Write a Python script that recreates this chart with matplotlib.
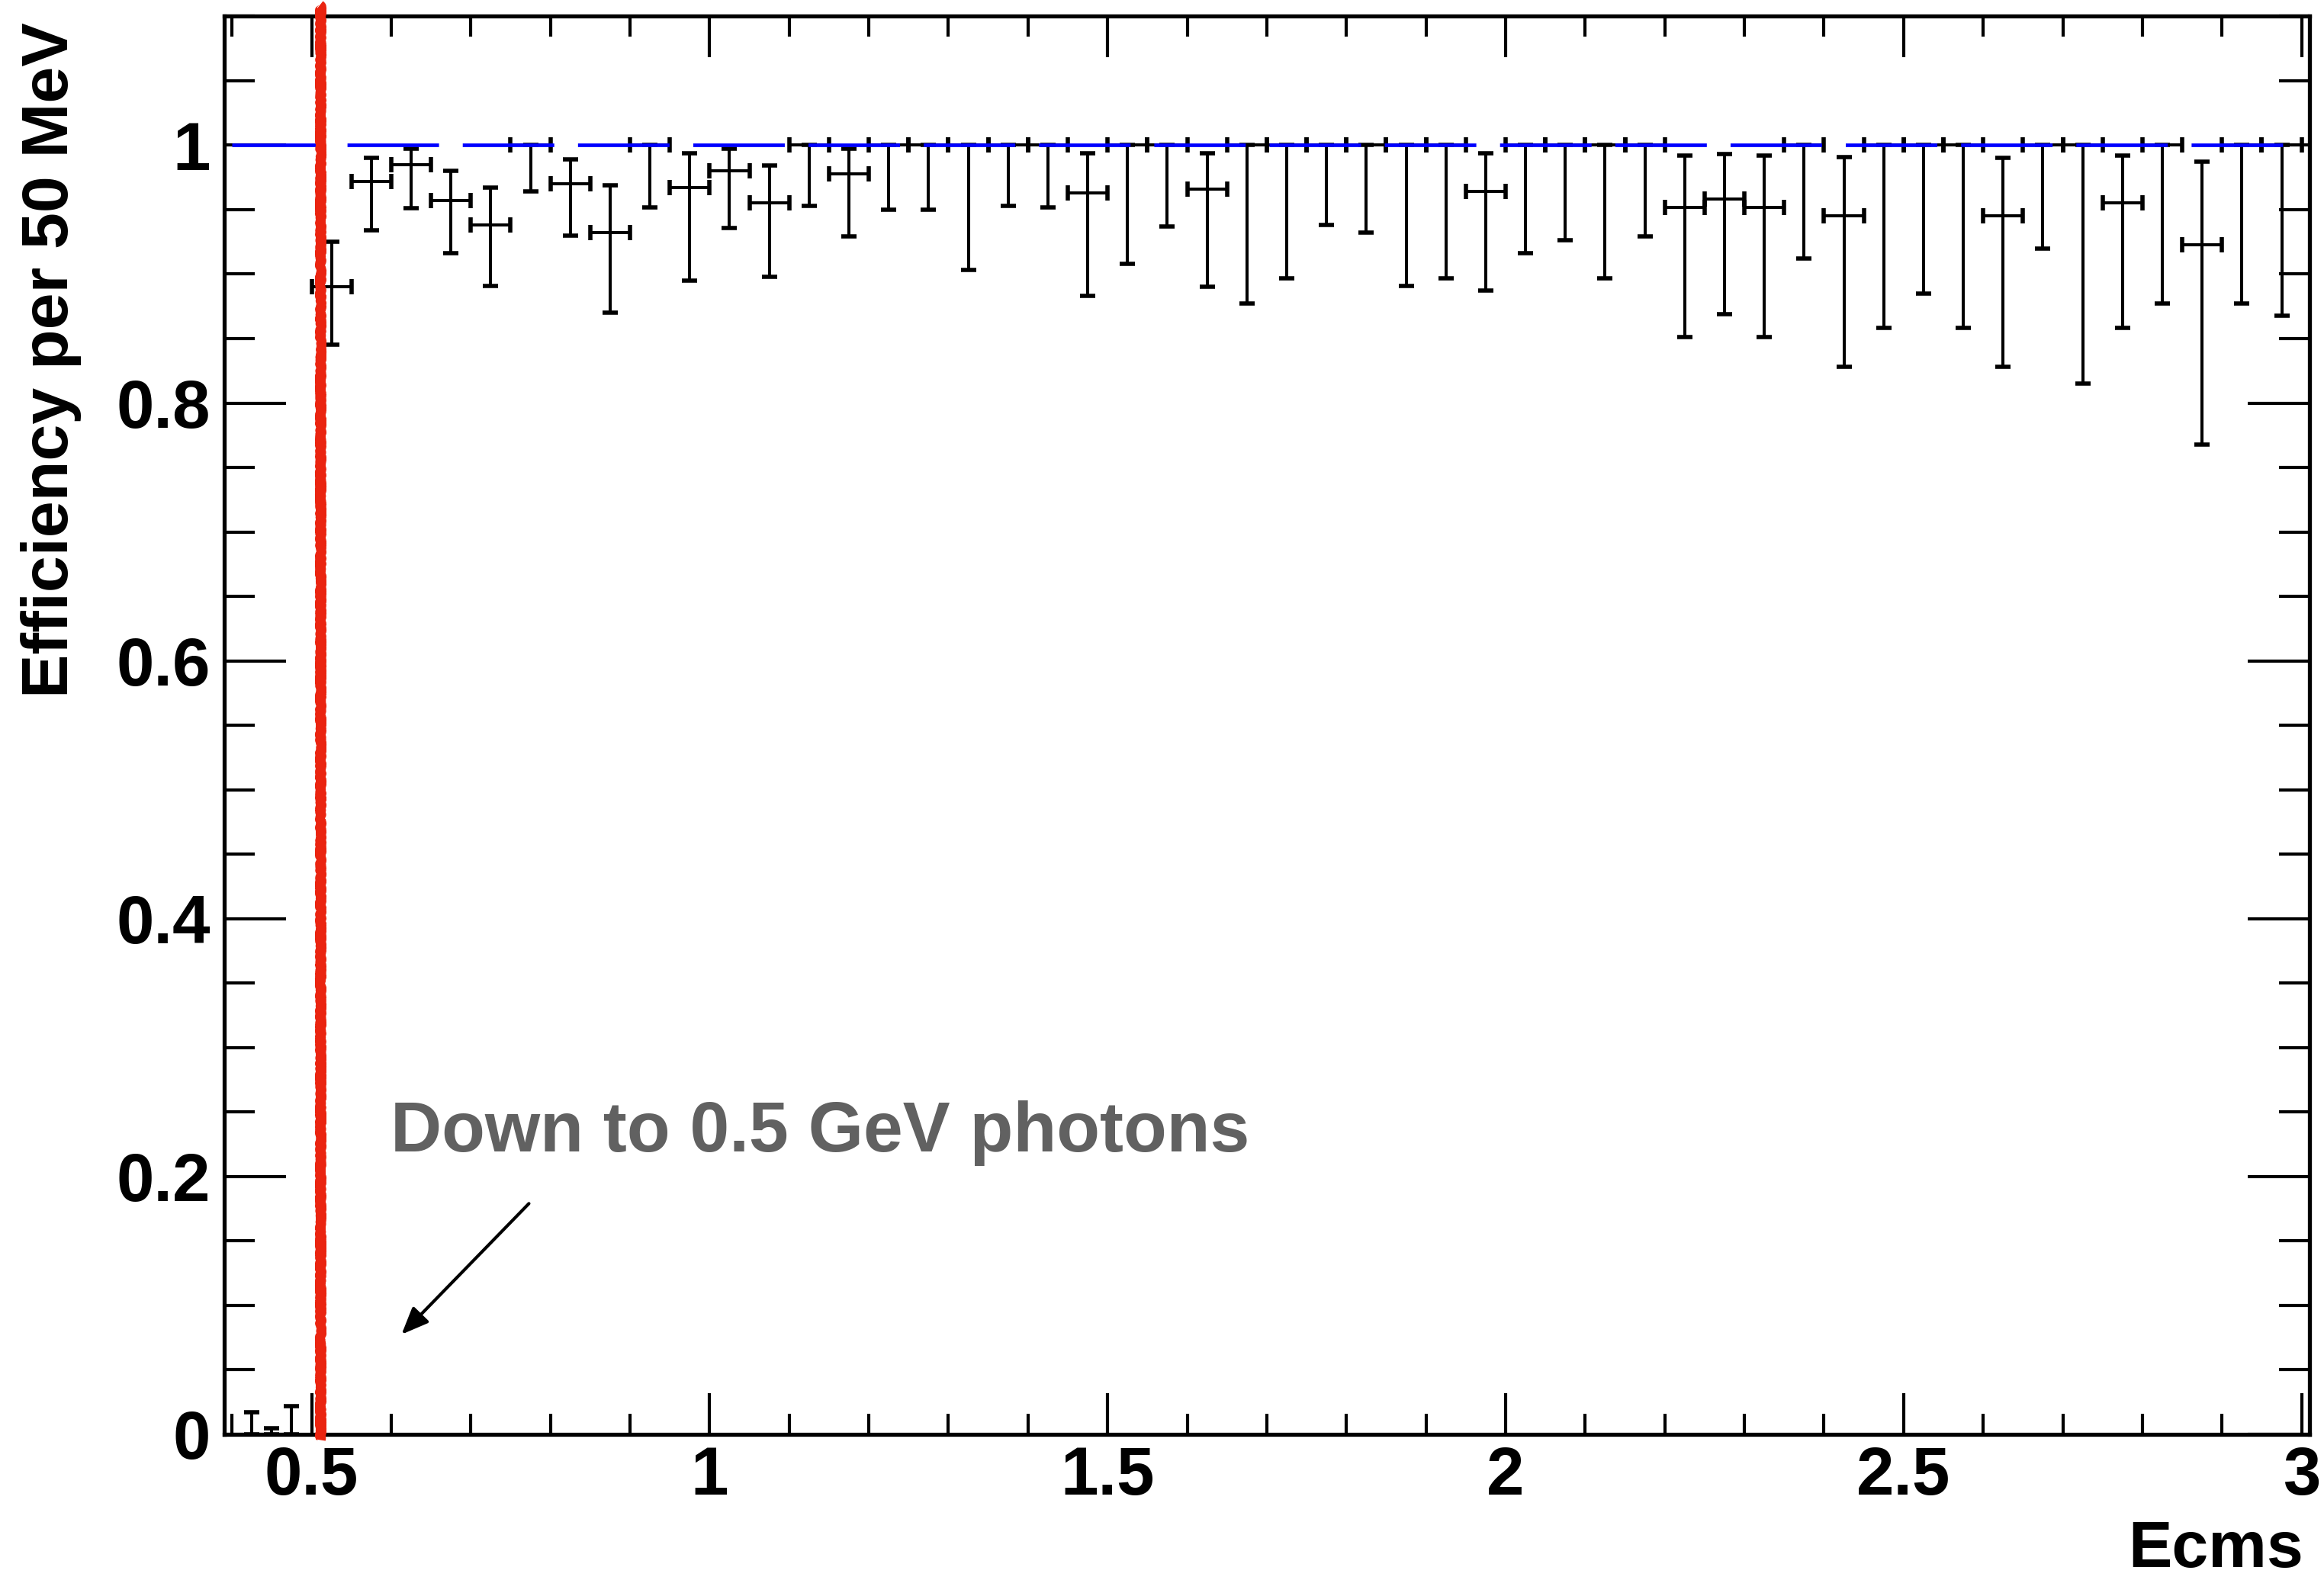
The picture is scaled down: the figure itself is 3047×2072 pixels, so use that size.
import numpy as np
import matplotlib
matplotlib.use("Agg")
import matplotlib.pyplot as plt
from matplotlib.ticker import MultipleLocator, FuncFormatter

plt.rcParams['font.family'] = ['Liberation Sans', 'DejaVu Sans']
plt.rcParams['font.weight'] = 'bold'
plt.rcParams['lines.scale_dashes'] = False

# efficiency per 50 MeV bin (Ecms bin centres)
ecms = [0.525, 0.575, 0.625, 0.675, 0.725, 0.775, 0.825, 0.875, 0.925, 0.975,
        1.025, 1.075, 1.125, 1.175, 1.225, 1.275, 1.325, 1.375, 1.425, 1.475,
        1.525, 1.575, 1.625, 1.675, 1.725, 1.775, 1.825, 1.875, 1.925, 1.975,
        2.025, 2.075, 2.125, 2.175, 2.225, 2.275, 2.325, 2.375, 2.425, 2.475,
        2.525, 2.575, 2.625, 2.675, 2.725, 2.775, 2.825, 2.875, 2.925, 2.975]
eff = [0.890, 0.972, 0.985, 0.957, 0.938, 1.000, 0.970, 0.932, 1.000, 0.967,
       0.980, 0.955, 1.000, 0.978, 1.000, 1.000, 1.000, 1.000, 1.000, 0.963,
       1.000, 1.000, 0.966, 1.000, 1.000, 1.000, 1.000, 1.000, 1.000, 0.964,
       1.000, 1.000, 1.000, 1.000, 0.952, 0.958, 0.952, 1.000, 0.945, 1.000,
       1.000, 1.000, 0.945, 1.000, 1.000, 0.955, 1.000, 0.923, 1.000, 1.000]
eff_lo = [0.845, 0.934, 0.951, 0.916, 0.891, 0.964, 0.930, 0.870, 0.952, 0.895,
          0.936, 0.898, 0.953, 0.929, 0.950, 0.950, 0.903, 0.953, 0.952, 0.883,
          0.908, 0.937, 0.890, 0.877, 0.897, 0.938, 0.932, 0.891, 0.897, 0.887,
          0.916, 0.926, 0.897, 0.929, 0.851, 0.869, 0.851, 0.912, 0.828, 0.858,
          0.885, 0.858, 0.828, 0.920, 0.815, 0.858, 0.877, 0.768, 0.877, 0.868]
eff_hi = [0.925, 0.990, 0.997, 0.980, 0.967, 1.000, 0.989, 0.969, 1.000, 0.994,
          0.997, 0.984, 1.000, 0.997, 1.000, 1.000, 1.000, 1.000, 1.000, 0.994,
          1.000, 1.000, 0.994, 1.000, 1.000, 1.000, 1.000, 1.000, 1.000, 0.994,
          1.000, 1.000, 1.000, 1.000, 0.992, 0.993, 0.992, 1.000, 0.991, 1.000,
          1.000, 1.000, 0.990, 1.000, 1.000, 0.992, 1.000, 0.987, 1.000, 1.000]

# points below threshold (zero efficiency)
low_x = [0.425, 0.45, 0.475]
low_eff = [0.0, 0.0, 0.0]
low_hi = [0.017, 0.005, 0.022]

bin_half = 0.025
threshold = 0.511
line_x = [0.40, 3.00]
line_y = [1.0, 1.0]

fig = plt.figure(figsize=(15.235, 10.36), dpi=200)
ax = fig.add_axes([0.0964, 0.0922, 0.8974, 0.8975])

eff = np.array(eff)
yerr = [eff - np.array(eff_lo), np.array(eff_hi) - eff]
ax.errorbar(ecms, eff, xerr=bin_half, yerr=yerr, fmt='none', ecolor='black',
            elinewidth=1.45, capsize=3.6, capthick=2.0, zorder=3)
ax.errorbar(low_x, low_eff, yerr=[np.zeros(3), low_hi], fmt='none', ecolor='black',
            elinewidth=1.45, capsize=3.6, capthick=2.0, zorder=3)

ax.plot(line_x, line_y, color='#0000ff', lw=1.7, linestyle=(0, (43.2, 11.2)),
        solid_capstyle='butt', dash_capstyle='butt', zorder=4)

# hand drawn threshold marker
red, = ax.plot([threshold, threshold], [-0.004, 1.109], color='#ea2410', lw=4.6,
               solid_capstyle='butt', clip_on=False, zorder=6)
red.set_sketch_params(scale=1.2, length=8, randomness=6)

ax.text(0.5987, 0.2194, "Down to 0.5 GeV photons", color='#616161',
        fontsize=33.5, fontweight='bold', ha='left', va='baseline', zorder=5)
ax.annotate("", xy=(0.613, 0.0775), xytext=(0.773, 0.179),
            arrowprops=dict(arrowstyle='-|>,head_length=0.6,head_width=0.25',
                            mutation_scale=18, color='black', lw=1.5,
                            shrinkA=0, shrinkB=0), zorder=5)

ax.set_xlim(0.39, 3.01)
ax.set_ylim(0, 1.1)
ax.xaxis.set_major_locator(MultipleLocator(0.5))
ax.xaxis.set_minor_locator(MultipleLocator(0.1))
ax.yaxis.set_major_locator(MultipleLocator(0.2))
ax.yaxis.set_minor_locator(MultipleLocator(0.05))
fmt = FuncFormatter(lambda v, p: "%g" % round(v, 3))
ax.xaxis.set_major_formatter(fmt)
ax.yaxis.set_major_formatter(fmt)

ax.tick_params(which='both', direction='in', top=True, right=True, width=1.5,
               labelsize=32, colors='black')
ax.tick_params(axis='x', which='major', length=19.5, pad=5)
ax.tick_params(axis='x', which='minor', length=9.7)
ax.tick_params(axis='y', which='major', length=29, pad=6.5)
ax.tick_params(axis='y', which='minor', length=14.5)
for lab in ax.get_xticklabels() + ax.get_yticklabels():
    lab.set_fontweight('bold')
for sp in ax.spines.values():
    sp.set_linewidth(1.9)

ax.set_xlabel("Ecms", fontsize=31, fontweight='bold', loc='right')
ax.xaxis.set_label_coords(0.997, -0.060)
ax.set_ylabel("Efficiency per 50 MeV", fontsize=31, fontweight='bold', loc='top')
ax.yaxis.set_label_coords(-0.0684, 0.9957)

fig.savefig("out.png", dpi=200)
